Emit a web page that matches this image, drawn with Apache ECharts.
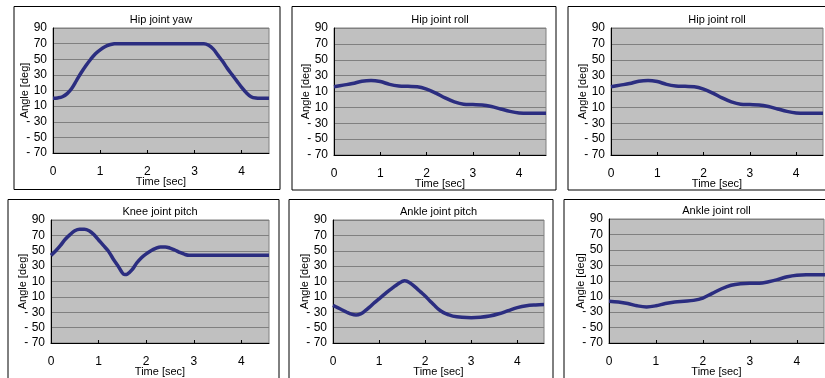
<!DOCTYPE html>
<html>
<head>
<meta charset="utf-8">
<script src="https://cdn.jsdelivr.net/npm/echarts@6/dist/echarts.min.js"></script>
<style>
html,body{margin:0;padding:0;background:#fff;}
#c{width:825px;height:378px;}
</style>
</head>
<body>
<div id="c"></div>
<script>
// ---- data ----
const panelTitles = ['Hip joint yaw', 'Hip joint roll', 'Hip joint roll', 'Knee joint pitch', 'Ankle joint pitch', 'Ankle joint roll'];
const yTicks = [-70, -50, -30, -10, 10, 30, 50, 70, 90];
const xTicks = [0, 1, 2, 3, 4];

const hipYawTime  = [0, 0.1, 0.2, 0.3, 0.4, 0.5, 0.6, 0.7, 0.8, 0.9, 1.0, 1.1, 1.2, 1.3, 1.4, 1.6, 2.0, 2.5, 3.0, 3.2, 3.3, 3.4, 3.5, 3.6, 3.7, 3.8, 3.9, 4.0, 4.1, 4.2, 4.3, 4.4, 4.58];
const hipYawAngle = [0, 0.5, 2, 6, 13, 23, 33, 42, 50, 57, 62, 66, 68.5, 69.7, 70, 70, 70, 70, 70, 70, 68, 63, 55, 47, 38, 30, 22, 14, 7, 2, 0.3, 0, 0];

const hipRollTime  = [0, 0.2, 0.4, 0.6, 0.8, 1.0, 1.2, 1.4, 1.6, 1.8, 2.0, 2.2, 2.4, 2.6, 2.8, 3.0, 3.2, 3.4, 3.6, 3.8, 4.0, 4.2, 4.4, 4.58];
const hipRollAngle = [16, 18, 20, 23, 24, 22.5, 19, 17, 16.5, 16, 13, 8, 2, -3, -6, -6.5, -7, -9, -12, -15, -17, -17.5, -17.5, -17.5];

const kneePitchTime  = [0, 0.1, 0.2, 0.3, 0.4, 0.5, 0.6, 0.7, 0.8, 0.9, 1.0, 1.1, 1.2, 1.3, 1.4, 1.5, 1.55, 1.6, 1.7, 1.8, 1.9, 2.0, 2.1, 2.2, 2.3, 2.4, 2.5, 2.6, 2.7, 2.8, 2.9, 3.0, 3.5, 4.0, 4.58];
const kneePitchAngle = [44, 50, 57, 65, 71, 76, 78, 78, 76, 71, 64, 57, 50, 40, 31, 21, 19, 19.5, 25, 34, 41, 46, 50, 53, 55, 55, 53.5, 51, 48, 45.5, 44, 44, 44, 44, 44];

const anklePitchTime  = [0, 0.1, 0.2, 0.3, 0.4, 0.5, 0.6, 0.7, 0.8, 0.9, 1.0, 1.1, 1.2, 1.3, 1.4, 1.5, 1.55, 1.6, 1.7, 1.8, 1.9, 2.0, 2.1, 2.2, 2.3, 2.4, 2.5, 2.6, 2.8, 3.0, 3.2, 3.4, 3.6, 3.8, 4.0, 4.2, 4.4, 4.58];
const anklePitchAngle = [-21, -24, -27, -30, -32.5, -33.5, -32, -28, -23, -17.5, -12.5, -7.5, -2.5, 2, 6.5, 10, 11, 10.5, 7, 2, -3.5, -9, -15, -21, -26.5, -30.5, -33, -35, -36.5, -37, -36.5, -35, -32, -28, -24, -21.5, -20.5, -20];

const ankleRollTime  = [0, 0.2, 0.4, 0.6, 0.8, 1.0, 1.2, 1.4, 1.6, 1.8, 2.0, 2.2, 2.4, 2.6, 2.8, 3.0, 3.2, 3.4, 3.6, 3.8, 4.0, 4.2, 4.4, 4.6];
const ankleRollAngle = [-16, -17, -19, -22, -23.5, -22, -19, -17, -16, -15, -12, -6, 0, 4.5, 6.5, 7, 7, 9, 12, 15.5, 17.5, 18, 18, 18];

const panelTimes  = [hipYawTime, hipRollTime, hipRollTime, kneePitchTime, anklePitchTime, ankleRollTime];
const panelAngles = [hipYawAngle, hipRollAngle, hipRollAngle, kneePitchAngle, anklePitchAngle, ankleRollAngle];

// ---- layout (pixels) ----
const grids = [
  {left: 53,  top: 28,  width: 216, height: 125},
  {left: 334, top: 28,  width: 212, height: 127},
  {left: 611, top: 28,  width: 212, height: 127},
  {left: 51,  top: 220, width: 218, height: 127},
  {left: 333, top: 220, width: 211, height: 127},
  {left: 609, top: 219, width: 215, height: 129}
];
const frames = [
  [14, 6.5, 266, 183], [292, 6.5, 264, 183.5], [568, 6.5, 270, 183.5],
  [8, 199.5, 271, 200], [289, 199.5, 264, 200], [564, 199.5, 280, 200]
];

const font = 'Liberation Sans, Arial, sans-serif';
const lineColor = '#2b2d80';

const option = {
  animation: false,
  backgroundColor: '#ffffff',
  graphic: frames.map(f => ({
    type: 'rect', silent: true, z: -10,
    shape: {x: f[0], y: f[1], width: f[2], height: f[3]},
    style: {fill: '#ffffff', stroke: '#000000', lineWidth: 1}
  })),
  title: grids.map((g, i) => ({
    text: panelTitles[i],
    left: g.left + g.width / 2,
    top: g.top - 14,
    textAlign: 'center',
    padding: 0,
    textStyle: {fontFamily: font, fontSize: 11, fontWeight: 'normal', color: '#000'}
  })),
  grid: grids.map(g => ({
    left: g.left, top: g.top, width: g.width, height: g.height,
    show: true, backgroundColor: '#c0c0c0', borderColor: '#808080', borderWidth: 1
  })),
  xAxis: grids.map((g, i) => ({
    type: 'value', gridIndex: i, min: xTicks[0], max: 4.58, interval: 1,
    name: 'Time [sec]', nameLocation: 'middle', nameGap: 23, nameMoveOverlap: false,
    nameTextStyle: {fontFamily: font, fontSize: 11, color: '#000'},
    axisLine: {show: true, onZero: false, lineStyle: {color: '#000', width: 1}},
    axisTick: {show: true, inside: true, length: 3, lineStyle: {color: '#000'}},
    axisLabel: {
      fontFamily: font, fontSize: 12, color: '#000', margin: 13, showMaxLabel: false,
      formatter: v => (xTicks.indexOf(v) >= 0 ? String(v) : '')
    },
    splitLine: {show: false}
  })),
  yAxis: grids.map((g, i) => ({
    type: 'value', gridIndex: i, min: yTicks[0], max: yTicks[yTicks.length - 1], interval: 20,
    name: 'Angle [deg]', nameLocation: 'middle', nameGap: 23, nameRotate: 90, nameMoveOverlap: false,
    nameTextStyle: {fontFamily: font, fontSize: 11, color: '#000'},
    axisLine: {show: true, lineStyle: {color: '#000', width: 1}},
    axisTick: {show: false},
    axisLabel: {
      fontFamily: font, fontSize: 12, color: '#000', margin: 6,
      formatter: v => (v < 0 ? '- ' + Math.abs(v) : String(v))
    },
    splitLine: {show: true, lineStyle: {color: '#808080', width: 1}}
  })),
  series: panelAngles.map((arr, i) => ({
    type: 'line', xAxisIndex: i, yAxisIndex: i,
    data: arr.map((v, k) => [panelTimes[i][k], v]),
    smooth: 0.35, symbol: 'none',
    lineStyle: {color: lineColor, width: 3.5},
    clip: true
  }))
};

const chart = echarts.init(document.getElementById('c'), null, {renderer: 'canvas'});
chart.setOption(option);
</script>
</body>
</html>
